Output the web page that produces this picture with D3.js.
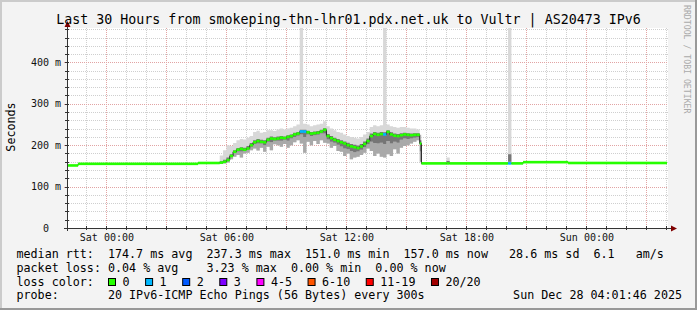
<!DOCTYPE html>
<html>
<head>
<meta charset="utf-8">
<script src="https://cdn.jsdelivr.net/npm/d3@7"></script>
<style>
  html, body { margin: 0; padding: 0; background: #f3f3f3; }
  svg { display: block; }
</style>
</head>
<body>
<script>
// smokeping style latency graph, drawn with d3

const chartTitle = "Last 30 Hours from smokeping-thn-lhr01.pdx.net.uk to Vultr | AS20473 IPv6";
const startTime = "2025-12-26T22:01:46Z";
const endTime = "2025-12-28T04:01:46Z";

// each sample holds until the next one (step after)
const sampleTimes = [
  "2025-12-26T22:01:46Z", "2025-12-26T22:35Z", "2025-12-27T04:35Z",
  "2025-12-27T05:40Z", "2025-12-27T05:50Z", "2025-12-27T06:00Z", "2025-12-27T06:10Z",
  "2025-12-27T06:20Z", "2025-12-27T06:30Z", "2025-12-27T06:40Z", "2025-12-27T06:50Z",
  "2025-12-27T07:00Z", "2025-12-27T07:10Z", "2025-12-27T07:20Z", "2025-12-27T07:30Z",
  "2025-12-27T07:40Z", "2025-12-27T07:50Z", "2025-12-27T08:00Z", "2025-12-27T08:10Z",
  "2025-12-27T08:20Z", "2025-12-27T08:30Z", "2025-12-27T08:40Z", "2025-12-27T08:50Z",
  "2025-12-27T09:00Z", "2025-12-27T09:10Z", "2025-12-27T09:20Z", "2025-12-27T09:30Z",
  "2025-12-27T09:40Z", "2025-12-27T09:50Z", "2025-12-27T10:00Z", "2025-12-27T10:10Z",
  "2025-12-27T10:20Z", "2025-12-27T10:30Z", "2025-12-27T10:40Z", "2025-12-27T10:50Z",
  "2025-12-27T11:00Z", "2025-12-27T11:10Z", "2025-12-27T11:20Z", "2025-12-27T11:30Z",
  "2025-12-27T11:40Z", "2025-12-27T11:50Z", "2025-12-27T12:00Z", "2025-12-27T12:10Z",
  "2025-12-27T12:20Z", "2025-12-27T12:30Z", "2025-12-27T12:40Z", "2025-12-27T12:50Z",
  "2025-12-27T13:00Z", "2025-12-27T13:10Z", "2025-12-27T13:20Z", "2025-12-27T13:30Z",
  "2025-12-27T13:40Z", "2025-12-27T13:50Z", "2025-12-27T14:00Z", "2025-12-27T14:10Z",
  "2025-12-27T14:20Z", "2025-12-27T14:30Z", "2025-12-27T14:40Z", "2025-12-27T14:50Z",
  "2025-12-27T15:00Z", "2025-12-27T15:10Z", "2025-12-27T15:20Z", "2025-12-27T15:30Z",
  "2025-12-27T15:40Z", "2025-12-27T15:45Z",
  "2025-12-27T17:00Z", "2025-12-27T17:10Z",
  "2025-12-27T20:05Z", "2025-12-27T20:15Z", "2025-12-27T20:50Z", "2025-12-27T23:05Z"
];

// milliseconds
const medianRtt = [
  151, 155, 157,
  158, 160, 164, 174, 184, 189, 191, 189, 192, 200, 207, 210,
  208, 207, 213, 216, 215, 216, 218, 217, 220, 222, 226, 228,
  233, 233, 231, 228, 229, 230, 233, 237, 222, 217, 213, 210,
  207, 204, 200, 197, 195, 193, 197, 203, 210, 222, 227, 225,
  227, 226, 232, 226, 223, 222, 224, 226, 225, 224, 225, 225,
  204, 156,
  156, 156,
  156, 156, 159, 157
];
const pingMin = [
  150, 154, 156,
  155, 156, 158, 166, 172, 176, 170, 180, 182, 188, 192, 187,
  194, 184, 196, 188, 202, 200, 196, 203, 194, 200, 207, 212,
  204, 182, 208, 200, 210, 203, 212, 206, 204, 194, 198, 186,
  184, 174, 180, 166, 170, 172, 176, 182, 192, 186, 174, 180,
  172, 170, 178, 174, 190, 180, 194, 198, 200, 204, 208, 212,
  160, 155,
  155, 155,
  155, 155, 158, 156
];
const pingLowQ = [
  151, 155, 157,
  157, 158, 161, 171, 181, 185, 185, 186, 189, 196, 203, 204,
  204, 200, 208, 207, 211, 211, 211, 213, 211, 216, 220, 223,
  226, 220, 226, 222, 224, 225, 228, 228, 214, 208, 206, 201,
  197, 192, 190, 186, 183, 185, 189, 195, 202, 208, 205, 204,
  206, 203, 210, 204, 208, 206, 213, 216, 215, 216, 218, 219,
  185, 156,
  156, 156,
  160, 156, 159, 157
];
const pingHighQ = [
  152, 156, 158,
  161, 165, 170, 178, 188, 193, 195, 194, 198, 205, 212, 215,
  213, 212, 218, 221, 219, 221, 222, 221, 224, 226, 230, 232,
  237, 237, 235, 232, 233, 234, 237, 241, 227, 222, 218, 215,
  212, 209, 206, 203, 201, 199, 203, 209, 216, 228, 232, 230,
  232, 231, 236, 231, 228, 227, 229, 230, 229, 228, 229, 229,
  212, 157,
  162, 157,
  178, 157, 160, 158
];
const pingMax = [
  153, 157, 159,
  175, 188, 200, 198, 205, 212, 215, 214, 218, 222, 232, 235,
  230, 232, 236, 236, 234, 238, 240, 238, 240, 242, 246, 250,
  600, 252, 250, 246, 248, 250, 252, 258, 246, 240, 236, 232,
  230, 226, 222, 220, 218, 216, 220, 226, 232, 244, 248, 246,
  248, 600, 250, 246, 244, 242, 244, 244, 242, 240, 240, 238,
  225, 158,
  170, 158,
  600, 158, 161, 159
];
// lost pings out of 20
const lossPings = [
  0, 0, 0,
  0, 0, 0, 0, 0, 0, 0, 0, 0, 0, 0, 0,
  0, 0, 0, 0, 0, 0, 0, 0, 0, 0, 0, 0,
  1, 1, 0, 0, 0, 0, 0, 0, 0, 0, 0, 0,
  0, 0, 0, 0, 0, 0, 0, 0, 0, 0, 0, 0,
  0, 1, 0, 0, 0, 0, 0, 0, 0, 0, 0, 0,
  0, 0,
  0, 0,
  1, 0, 0, 0
];

const yTicks = [0, 100, 200, 300, 400];
const lossLabels = ["0", "1", "2", "3", "4-5", "6-10", "11-19", "20/20"];
const lossUpper = [0, 1, 2, 3, 5, 10, 19, 20];
const lossColors = ["#26ff00", "#00b8ff", "#0059ff", "#7e00ff", "#ff00ff", "#ff5500", "#ff0000", "#a10000"];

const legendLines = [
  "median rtt:  174.7 ms avg  237.3 ms max  151.0 ms min  157.0 ms now   28.6 ms sd  6.1   am/s",
  "packet loss: 0.04 % avg    3.23 % max  0.00 % min  0.00 % now",
  "loss color:",
  "probe:       20 IPv6-ICMP Echo Pings (56 Bytes) every 300s"
];
const stampText = "Sun Dec 28 04:01:46 2025";

///////////////////////////////////////////////////////////

const W = 697, H = 310;
const plot = { left: 67, right: 668, top: 28, bottom: 228 };
const font = "'DejaVu Sans Mono', monospace";
const charW = 7.03;
const nb = s => s.replace(/ /g, "\u00a0");

const svg = d3.select("body").append("svg")
  .attr("width", W).attr("height", H)
  .attr("font-family", font);

// background + rrdtool style shading
svg.append("rect").attr("width", W).attr("height", H).attr("fill", "#f3f3f3");
svg.append("rect").attr("width", W).attr("height", 2).attr("fill", "#cbcbcb");
svg.append("rect").attr("width", 2).attr("height", H).attr("fill", "#cbcbcb");
svg.append("rect").attr("x", W - 2).attr("width", 2).attr("height", H).attr("fill", "#999");
svg.append("rect").attr("y", H - 2).attr("width", W).attr("height", 2).attr("fill", "#999");

const x = d3.scaleUtc()
  .domain([new Date(startTime), new Date(endTime)])
  .range([plot.left, plot.right - 1]);
const y = d3.scaleLinear().domain([0, 483]).range([plot.bottom, plot.top]);

svg.append("rect")
  .attr("x", plot.left).attr("y", plot.top)
  .attr("width", plot.right - plot.left).attr("height", plot.bottom - plot.top)
  .attr("fill", "#fff");

// grid
const grid = svg.append("g").attr("shape-rendering", "crispEdges");
const hours = d3.utcHours(x.domain()[0], x.domain()[1]);
const minorY = d3.range(20, 481, 20).filter(v => v % 100 !== 0);
const crisp = v => Math.round(v) + 0.5;

grid.selectAll("line.vmin").data(hours.filter(d => d.getUTCHours() % 3 !== 0))
  .enter().append("line")
  .attr("x1", d => crisp(x(d))).attr("x2", d => crisp(x(d)))
  .attr("y1", plot.top).attr("y2", plot.bottom)
  .attr("stroke", "#cfcfcf").attr("stroke-dasharray", "1,1");
grid.selectAll("line.hmin").data(minorY)
  .enter().append("line")
  .attr("x1", plot.left).attr("x2", plot.right)
  .attr("y1", d => crisp(y(d))).attr("y2", d => crisp(y(d)))
  .attr("stroke", "#cfcfcf").attr("stroke-dasharray", "1,1");
grid.selectAll("line.vmaj").data(hours.filter(d => d.getUTCHours() % 3 === 0))
  .enter().append("line")
  .attr("x1", d => crisp(x(d))).attr("x2", d => crisp(x(d)))
  .attr("y1", plot.top).attr("y2", plot.bottom)
  .attr("stroke", "#e2a4a4").attr("stroke-dasharray", "1,1");
grid.selectAll("line.hmaj").data(yTicks.filter(v => v > 0))
  .enter().append("line")
  .attr("x1", plot.left - 3).attr("x2", plot.right)
  .attr("y1", d => crisp(y(d))).attr("y2", d => crisp(y(d)))
  .attr("stroke", "#e2a4a4").attr("stroke-dasharray", "1,1");

// rows for the series
const rows = sampleTimes.map((t, i) => ({
  t: new Date(t), med: medianRtt[i], min: pingMin[i], q1: pingLowQ[i],
  q3: pingHighQ[i], max: pingMax[i], loss: lossPings[i]
}));
rows.push(Object.assign({}, rows[rows.length - 1], { t: new Date(endTime) }));

svg.append("clipPath").attr("id", "clip")
  .append("rect")
  .attr("x", plot.left + 1).attr("y", plot.top)
  .attr("width", plot.right - plot.left - 1).attr("height", plot.bottom - plot.top);

const data = svg.append("g").attr("clip-path", "url(#clip)");

// smoke: light haze for the full spread, darker toward the middle
const band = (lo, hi) => d3.area().curve(d3.curveStepAfter)
  .x(d => x(d.t)).y0(d => y(d[lo])).y1(d => y(d[hi]));

data.append("path").attr("d", band("min", "max")(rows)).attr("fill", "#d8d8d8");
data.append("path").attr("d", band("min", "q1")(rows)).attr("fill", "#a9a9a9");
data.append("path").attr("d", band("q1", "q3")(rows)).attr("fill", "#767676");

// median line
const medLine = d3.line().curve(d3.curveStepAfter)
  .x(d => x(d.t)).y(d => y(d.med));
data.append("path").attr("d", medLine(rows))
  .attr("fill", "none").attr("stroke", "#202020").attr("stroke-width", 1);

// loss colored median band
const lossIndex = n => lossUpper.findIndex(u => n <= u);
data.selectAll("rect.loss").data(rows.slice(0, -1))
  .enter().append("rect")
  .attr("x", d => x(d.t))
  .attr("width", (d, i) => Math.max(0, x(rows[i + 1].t) - x(d.t)))
  .attr("y", d => y(d.med) - 1.3)
  .attr("height", 2.6)
  .attr("fill", d => lossColors[lossIndex(d.loss)]);

// axes
const yAxis = d3.axisLeft(y)
  .tickValues(yTicks)
  .tickSize(0).tickPadding(6)
  .tickFormat(d => d === 0 ? "0\u00a0\u00a0" : d + "\u00a0m");
const yg = svg.append("g").attr("transform", `translate(${plot.left},0)`).call(yAxis);
yg.select(".domain").remove();
yg.selectAll("text").attr("font-family", font).attr("font-size", 10).attr("fill", "#111");

const labelHours = hours.filter(d => d.getUTCHours() % 6 === 0);
const xAxis = d3.axisBottom(x)
  .tickValues(labelHours)
  .tickSize(0).tickPadding(6)
  .tickFormat(d3.utcFormat("%a %H:%M"));
const xg = svg.append("g").attr("transform", `translate(0,${plot.bottom})`).call(xAxis);
xg.select(".domain").remove();
xg.selectAll("text").attr("font-family", font).attr("font-size", 10).attr("fill", "#111");

// small ticks on the axes
const axisColor = "#333";
const ticks = svg.append("g").attr("stroke", axisColor).attr("shape-rendering", "crispEdges");
ticks.selectAll("line.yt").data(d3.range(0, 481, 20))
  .enter().append("line")
  .attr("x1", plot.left - 2).attr("x2", plot.left + 2)
  .attr("y1", d => crisp(y(d))).attr("y2", d => crisp(y(d)));
ticks.selectAll("line.xt").data(hours)
  .enter().append("line")
  .attr("x1", d => crisp(x(d))).attr("x2", d => crisp(x(d)))
  .attr("y1", plot.bottom - 2).attr("y2", plot.bottom + 2);

const axes = svg.append("g").attr("shape-rendering", "crispEdges");
axes.append("line")
  .attr("x1", plot.left + 0.5).attr("x2", plot.left + 0.5)
  .attr("y1", plot.bottom + 3).attr("y2", plot.top - 5)
  .attr("stroke", axisColor);
axes.append("line")
  .attr("x1", plot.left - 3).attr("x2", plot.right + 4)
  .attr("y1", plot.bottom + 0.5).attr("y2", plot.bottom + 0.5)
  .attr("stroke", axisColor);
svg.append("path")
  .attr("d", `M${plot.left - 2.5},${plot.top - 1} L${plot.left + 0.5},${plot.top - 7} L${plot.left + 3.5},${plot.top - 1} Z`)
  .attr("fill", "#7f0000");
svg.append("path")
  .attr("d", `M${plot.right + 3},${plot.bottom - 2.5} L${plot.right + 9},${plot.bottom + 0.5} L${plot.right + 3},${plot.bottom + 3.5} Z`)
  .attr("fill", "#7f0000");

// title and labels
svg.append("text")
  .attr("x", W / 2).attr("y", 24)
  .attr("text-anchor", "middle")
  .attr("font-size", 13.3)
  .text(nb(chartTitle));

svg.append("text")
  .attr("transform", "translate(14.5,127) rotate(-90)")
  .attr("text-anchor", "middle")
  .attr("font-size", 11.7)
  .text("Seconds");

svg.append("text")
  .attr("transform", "translate(684,5) rotate(90)")
  .attr("font-size", 8.2)
  .attr("fill", "#aaa")
  .text(nb("RRDTOOL / TOBI OETIKER"));

// legend
const legendX = 16.5;
const legendY = [258.3, 272, 285.7, 299.3];
svg.selectAll("text.legend").data(legendLines)
  .enter().append("text")
  .attr("x", legendX).attr("y", (d, i) => legendY[i])
  .attr("font-size", 11.7)
  .text(d => nb(d));

svg.append("text")
  .attr("x", 682).attr("y", legendY[3])
  .attr("text-anchor", "end")
  .attr("font-size", 11.7)
  .text(nb(stampText));

// loss color swatches
let bx = 108.5;
const swatches = lossLabels.map((lab, i) => {
  const item = { lab, color: lossColors[i], bx };
  bx += 30.07 + lab.length * charW;
  return item;
});
const sw = svg.append("g");
sw.selectAll("rect").data(swatches)
  .enter().append("rect")
  .attr("x", d => d.bx).attr("y", 278.5)
  .attr("width", 7).attr("height", 7)
  .attr("fill", d => d.color)
  .attr("stroke", "#000").attr("stroke-width", 1);
sw.selectAll("text").data(swatches)
  .enter().append("text")
  .attr("x", d => d.bx + 14).attr("y", legendY[2])
  .attr("font-size", 11.7)
  .text(d => d.lab);
</script>
</body>
</html>
